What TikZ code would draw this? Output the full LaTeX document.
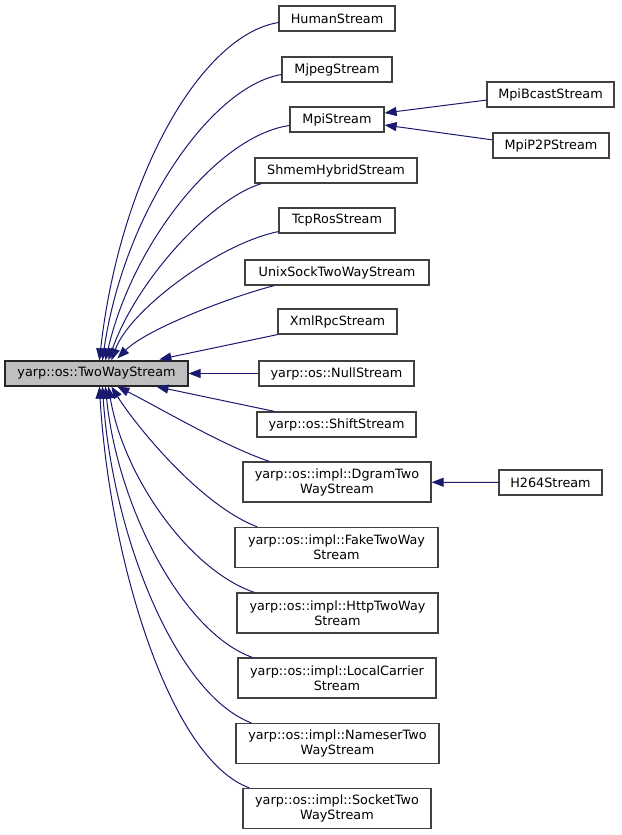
\documentclass[tikz,border=0pt]{standalone}
\usepackage{fontspec}
\setmainfont{DejaVu Sans}
\usepackage{xcolor}
\usetikzlibrary{arrows.meta}
\definecolor{edgeblue}{HTML}{191970}
\definecolor{basegray}{HTML}{BFBFBF}

\begin{document}
\begin{tikzpicture}[x=1pt, y=-1pt,
    cls/.style={draw=black!75, line width=1.2pt, fill=white, minimum height=25pt, inner sep=0pt,
        align=center, font=\fontsize{12.8}{15}\selectfont},
    cls2/.style={cls, minimum height=40pt},
    edge/.style={draw=edgeblue, line width=1pt, -{Triangle[length=12pt,width=9pt]}}]
    \useasboundingbox (0,0) rectangle (621,835);

    % Base class
    \node[cls, fill=basegray, draw=black!85, minimum width=183pt] (tws) at (96.5,373.5) {yarp::os::TwoWayStream};

    % Derived classes
    \node[cls, minimum width=116pt] (human) at (337,18.5) {HumanStream};
    \node[cls, minimum width=110pt] (mjpeg) at (337,69.5) {MjpegStream};
    \node[cls, minimum width=94pt] (mpi) at (337,119.5) {MpiStream};
    \node[cls, minimum width=162pt] (shmem) at (336,170.5) {ShmemHybridStream};
    \node[cls, minimum width=116pt] (tcpros) at (337,220.5) {TcpRosStream};
    \node[cls, minimum width=184pt] (unixsock) at (337,272.5) {UnixSockTwoWayStream};
    \node[cls, minimum width=119pt] (xmlrpc) at (337.5,321.5) {XmlRpcStream};
    \node[cls, minimum width=155pt] (nullst) at (336.5,373.5) {yarp::os::NullStream};
    \node[cls, minimum width=159pt] (shift) at (336.5,424.5) {yarp::os::ShiftStream};
    \node[cls2, minimum width=188pt] (dgram) at (337,482) {yarp::os::impl::DgramTwo\\WayStream};
    \node[cls2, minimum width=203pt] (fake) at (336.5,547.5) {yarp::os::impl::FakeTwoWay\\Stream};
    \node[cls2, minimum width=201pt] (http) at (337.5,613) {yarp::os::impl::HttpTwoWay\\Stream};
    \node[cls2, minimum width=198pt] (local) at (337,678) {yarp::os::impl::LocalCarrier\\Stream};
    \node[cls2, minimum width=203pt] (nameser) at (337.5,743.5) {yarp::os::impl::NameserTwo\\WayStream};
    \node[cls2, minimum width=188pt] (socket) at (337,808.5) {yarp::os::impl::SocketTwo\\WayStream};

    % Third level
    \node[cls, minimum width=127pt] (bcast) at (550.5,94.5) {MpiBcastStream};
    \node[cls, minimum width=116pt] (p2p) at (551,145.5) {MpiP2PStream};
    \node[cls, minimum width=103pt] (h264) at (550.5,482.5) {H264Stream};

    % Upper edges
    \draw[edge] ([yshift=-4pt]human.west) .. controls +(-79,13) and +(20,-180) .. ([xshift=95pt]tws.north west);
    \draw[edge] ([yshift=-5pt]mjpeg.west) .. controls +(-70,12) and +(22,-150) .. ([xshift=98pt]tws.north west);
    \draw[edge] ([yshift=-6pt]mpi.west) .. controls +(-70,10) and +(28,-120) .. ([xshift=101pt]tws.north west);
    \draw[edge] ([xshift=7pt]shmem.south west) .. controls +(-50,15) and +(28,-80) .. ([xshift=104pt]tws.north west);
    \draw[edge] ([yshift=2pt]tcpros.south west) .. controls +(-60,12) and +(18,-50) .. ([xshift=107pt]tws.north west);
    \draw[edge] ([xshift=30pt]unixsock.south west) .. controls +(-40,10) and +(30,-30) .. ([xshift=113pt,yshift=2pt]tws.north west);
    \draw[edge] (xmlrpc.south west) -- ([xshift=155pt,yshift=1pt]tws.north west);

    % Straight edges
    \draw[edge] (nullst) -- (tws);
    \draw[edge] ([xshift=18pt]shift.north west) -- ([xshift=152pt]tws.south west);

    % Lower edges
    \draw[edge] ([xshift=27pt]dgram.north west) .. controls +(-45,-15) and +(40,20) .. ([xshift=113pt]tws.south west);
    \foreach \n/\sx/\tx/\ax/\ay/\bx/\by in {fake/23/107/-58/-22/23/37, http/18/104/-65/-22/15/90,
        local/15/101/-70/-25/12/120, nameser/16/98/-75/-28/10/150, socket/7/95/-80/-29/10/172}
        \draw[edge] ([xshift=\sx pt]\n.north west) .. controls +(\ax,\ay) and +(\bx,\by) .. ([xshift=\tx pt]tws.south west);

    % Third level edges
    \draw[edge] ([yshift=7.5pt]bcast.south west) -- ([yshift=6.5pt]mpi.east);
    \draw[edge] ([yshift=-7.5pt]p2p.north west) -- ([yshift=-5.5pt]mpi.east);
    \draw[edge] (h264) -- (dgram);
\end{tikzpicture}
\end{document}
